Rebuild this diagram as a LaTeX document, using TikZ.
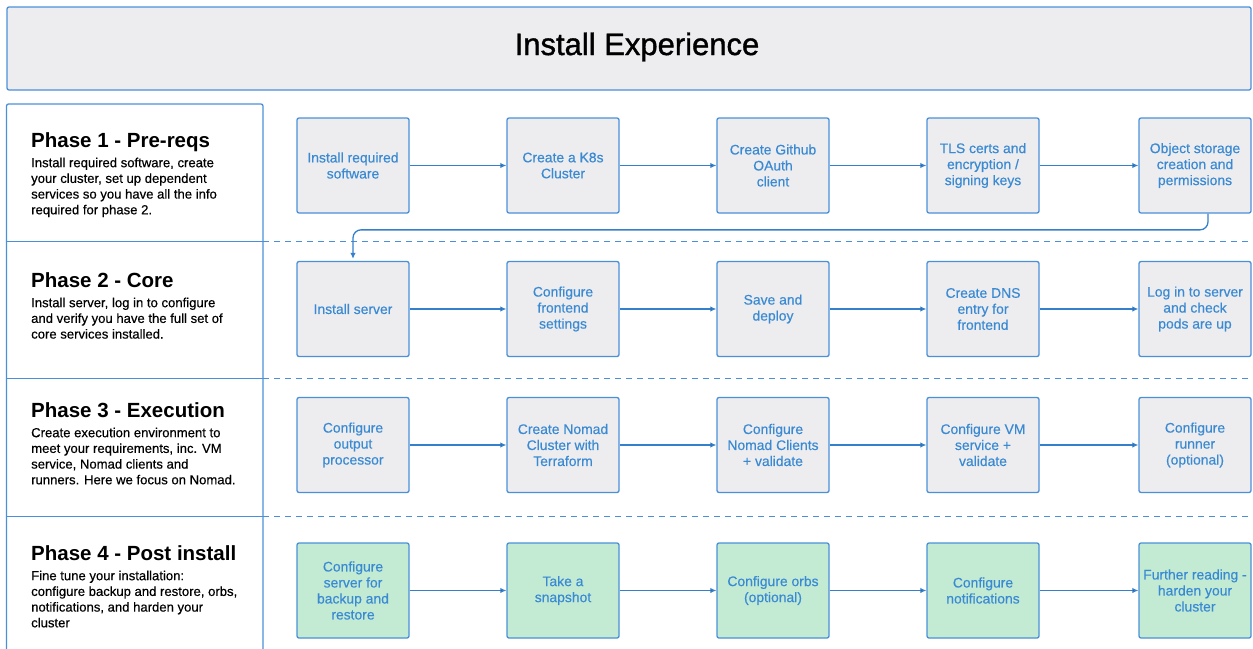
\documentclass[tikz,border=0pt]{standalone}
\usepackage{fontspec}
\setmainfont{Liberation Sans}
\newfontfamily\headfont[FakeBold=1.2]{Liberation Sans}
\newfontfamily\notefont[FakeBold=0.4]{Liberation Sans}
\usetikzlibrary{arrows.meta,positioning}
\definecolor{lineblue}{HTML}{4A90D9}
\definecolor{arrowblue}{HTML}{3580CC}
\definecolor{textblue}{HTML}{3A8AD3}
\definecolor{boxgray}{HTML}{EDEDF0}
\definecolor{boxgreen}{HTML}{C3EBD3}

\begin{document}
\begin{tikzpicture}[x=1pt,y=1pt,node distance=96.7pt,
    stepbox/.style={shape=rectangle,draw=lineblue,fill=boxgray,line width=1.3pt,rounded corners=2pt,
        minimum width=112pt,minimum height=95pt,inner sep=0pt,align=center,text=textblue,
        font=\notefont\fontsize{13.9}{16}\selectfont},
    postbox/.style={stepbox,fill=boxgreen},
    phasetitle/.style={anchor=base west,inner sep=0pt,font=\bfseries\fontsize{20.5}{24}\selectfont},
    phasetext/.style={anchor=north west,inner sep=0pt,align=left,font=\notefont\fontsize{13.1}{15.7}\selectfont},
    flow/.style={draw=arrowblue,line width=1.3pt,-{Latex[length=6pt,width=5.5pt]}},
    lane/.style={draw=lineblue,line width=1pt,dash pattern=on 6pt off 5pt}]

    \useasboundingbox (0,0) rectangle (1253,-648);

    % header
    \node[draw=lineblue,fill=boxgray,line width=1.3pt,rounded corners=2pt,minimum width=1244pt,minimum height=83pt] (head) at (629,-48.5) {};
    \node[font=\headfont\fontsize{31}{36}\selectfont] (title) at (637,-47) {Install Experience};

    % phase panel and lanes
    \draw[draw=lineblue,line width=1.3pt,rounded corners=2pt] (6.5,-670) |- (263,-104) -- (263,-670);
    \draw[draw=lineblue,line width=1pt] (6.5,-241) -- (263,-241);
    \draw[draw=lineblue,line width=1pt] (6.5,-378) -- (263,-378);
    \draw[draw=lineblue,line width=1pt] (6.5,-516) -- (263,-516);
    \draw[lane] (263,-241) -- (1253,-241);
    \draw[lane] (263,-378) -- (1253,-378);
    \draw[lane] (263,-516) -- (1253,-516);

    \node[phasetitle] (P1) at (31,-147) {Phase 1 - Pre-reqs};
    \node[phasetext]  (D1) at ([yshift=-10.5pt]P1.base west) {Install required software, create\\your cluster, set up dependent\\services so you have all the info\\required for phase 2.};
    \node[phasetitle] (P2) at (31,-287) {Phase 2 - Core};
    \node[phasetext]  (D2) at ([yshift=-10.5pt]P2.base west) {Install server, log in to configure\\and verify you have the full set of\\core services installed.};
    \node[phasetitle] (P3) at (31,-417) {Phase 3 - Execution};
    \node[phasetext]  (D3) at ([yshift=-10.5pt]P3.base west) {Create execution environment to\\meet your requirements, inc. VM\\service, Nomad clients and\\runners. Here we focus on Nomad.};
    \node[phasetitle] (P4) at (31,-560) {Phase 4 - Post install};
    \node[phasetext]  (D4) at ([yshift=-10.5pt]P4.base west) {Fine tune your installation:\\configure backup and restore, orbs,\\notifications, and harden your\\cluster};

    % phase 1
    \node[stepbox] (A1) at (353,-165.5) {Install required\\software};
    \node[stepbox,right=of A1] (B1) {Create a K8s\\Cluster};
    \node[stepbox,right=of B1] (C1) {Create Github\\OAuth\\client};
    \node[stepbox,right=of C1] (D1) {TLS certs and\\encryption /\\signing keys};
    \node[stepbox,right=98.7pt of D1] (E1) {Object storage\\creation and\\permissions};

    % phase 2
    \node[stepbox] (A2) at (353,-309) {Install server};
    \node[stepbox,right=of A2] (B2) {Configure\\frontend\\settings};
    \node[stepbox,right=of B2] (C2) {Save and\\deploy};
    \node[stepbox,right=of C2] (D2) {Create DNS\\entry for\\frontend};
    \node[stepbox,right=98.7pt of D2] (E2) {Log in to server\\and check\\pods are up};

    % phase 3
    \node[stepbox] (A3) at (353,-445) {Configure\\output\\processor};
    \node[stepbox,right=of A3] (B3) {Create Nomad\\Cluster with\\Terraform};
    \node[stepbox,right=of B3] (C3) {Configure\\Nomad Clients\\+ validate};
    \node[stepbox,right=of C3] (D3) {Configure VM\\service +\\validate};
    \node[stepbox,right=98.7pt of D3] (E3) {Configure\\runner\\(optional)};

    % phase 4
    \node[postbox] (A4) at (353,-590.5) {Configure\\server for\\backup and\\restore};
    \node[postbox,right=of A4] (B4) {Take a\\snapshot};
    \node[postbox,right=of B4] (C4) {Configure orbs\\(optional)};
    \node[postbox,right=of C4] (D4) {Configure\\notifications};
    \node[postbox,right=98.7pt of D4] (E4) {Further reading -\\harden your\\cluster};

    \path [flow](A1) edge (B1);
    \path [flow](B1) edge (C1);
    \path [flow](C1) edge (D1);
    \path [flow](D1) edge (E1);
    \draw [flow,rounded corners=8pt,shorten >=2pt]([xshift=13pt]E1.south) |- ([yshift=31pt]A2.north) -- (A2.north);
    \path [flow](A2) edge (B2);
    \path [flow](B2) edge (C2);
    \path [flow](C2) edge (D2);
    \path [flow](D2) edge (E2);
    \path [flow](A3) edge (B3);
    \path [flow](B3) edge (C3);
    \path [flow](C3) edge (D3);
    \path [flow](D3) edge (E3);
    \path [flow](A4) edge (B4);
    \path [flow](B4) edge (C4);
    \path [flow](C4) edge (D4);
    \path [flow](D4) edge (E4);
\end{tikzpicture}
\end{document}
